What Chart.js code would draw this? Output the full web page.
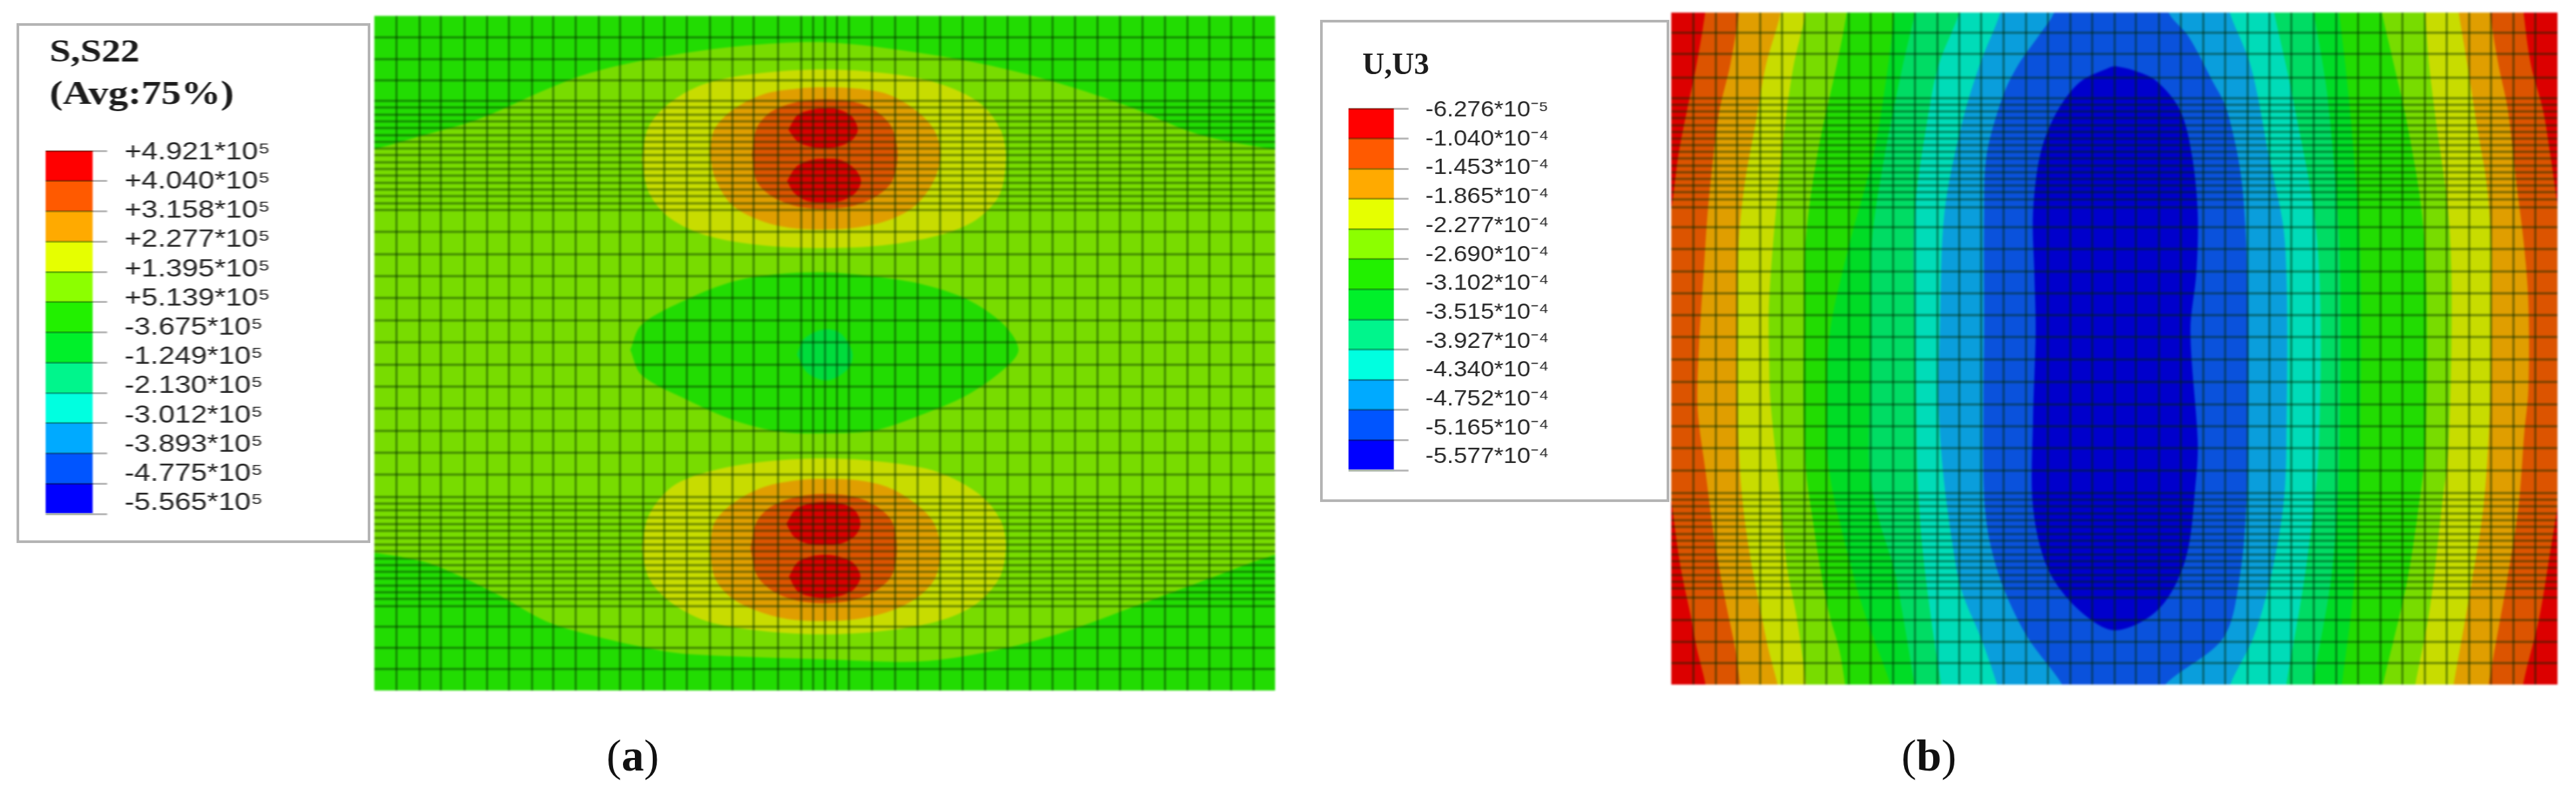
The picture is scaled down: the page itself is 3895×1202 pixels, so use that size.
<!DOCTYPE html>
<html><head><meta charset="utf-8">
<script src="https://cdn.jsdelivr.net/npm/chart.js@4/dist/chart.umd.js"></script>
<style>
html,body{margin:0;padding:0;background:#fff;width:3895px;height:1202px;overflow:hidden}
canvas{position:absolute;display:block}
.box{position:absolute;border:4px solid #b4b4b4;background:#fff;box-sizing:border-box}
.t{position:absolute;font-family:"Liberation Serif",serif;font-weight:bold;color:#1c1c1c;white-space:nowrap;transform-origin:0 0;filter:blur(.7px);line-height:1}
.cap{position:absolute;font-family:"Liberation Serif",serif;font-size:68px;color:#111;white-space:nowrap;line-height:1}
</style></head><body>
<div class="box" style="left:25px;top:35px;width:535px;height:786px"></div>
<div class="t" style="left:75px;top:53px;font-size:48px;transform:scaleX(1.2)">S,S22</div>
<div class="t" style="left:75px;top:115px;font-size:50px;transform:scaleX(1.2)">(Avg:75%)</div>
<div class="box" style="left:1996px;top:30px;width:528px;height:729px"></div>
<div class="t" style="left:2060px;top:74px;font-size:46px">U,U3</div>
<div class="cap" style="left:917px;top:1108px">(<b>a</b>)</div>
<div class="cap" style="left:2875px;top:1108px">(<b>b</b>)</div>
<canvas id="mapA" width="1362" height="1020" style="left:566px;top:24px;filter:blur(1.8px)"></canvas>
<canvas id="legA" width="320" height="669" style="left:69px;top:168px;transform-origin:0 0;transform:scaleX(1.19);filter:blur(.7px)"></canvas>
<canvas id="mapB" width="1340" height="1016" style="left:2527px;top:19px;filter:blur(1.8px)"></canvas>
<canvas id="legB" width="350" height="667" style="left:2039px;top:104px;transform-origin:0 0;transform:scaleX(1.11);filter:blur(.7px)"></canvas>
<script>
// ---------- legend text ----------
const legendLabelsA = ["+4.921*10⁵","+4.040*10⁵","+3.158*10⁵","+2.277*10⁵","+1.395*10⁵","+5.139*10⁵","-3.675*10⁵","-1.249*10⁵","-2.130*10⁵","-3.012*10⁵","-3.893*10⁵","-4.775*10⁵","-5.565*10⁵"];
const legendLabelsB = ["-6.276*10⁻⁵","-1.040*10⁻⁴","-1.453*10⁻⁴","-1.865*10⁻⁴","-2.277*10⁻⁴","-2.690*10⁻⁴","-3.102*10⁻⁴","-3.515*10⁻⁴","-3.927*10⁻⁴","-4.340*10⁻⁴","-4.752*10⁻⁴","-5.165*10⁻⁴","-5.577*10⁻⁴"];
const legendColors = ["#ff0000","#ff5a00","#ffaa00","#e6ff00","#8cff00","#22f000","#00f02a","#00f58c","#00ffe0","#00aaff","#0055ff","#0000ff"];
const bandHeights = [1,1,1,1,1,1,1,1,1,1,1,1];

// ---------- mesh lines (model units) ----------
const meshColsA = [33,68,101,136,170,203,238,270,304,339,371,406,438,473,507,541,573,610,645,663,681,699,717,752,787,821,855,889,923,957,991,1025,1059,1093,1127,1161,1195,1229,1262,1295,1329];
const meshRowsA = [32,65,97,128,138,149,159,169,180,190,200,210,221,231,241,252,262,272,283,293,326,360,393,426,460,493,527,560,593,627,660,693,727,737,747,758,768,778,789,799,809,820,830,840,850,861,871,881,892,923,955,987];
const meshColsB = [33,67,100,134,167,201,234,268,301,335,368,402,435,469,502,536,569,603,636,670,703,737,770,804,837,871,904,938,971,1005,1038,1072,1105,1139,1172,1206,1239,1273,1306];
const meshRowsB = [30,62,98,129,139,149,159,170,180,190,200,210,220,231,241,251,261,271,282,294,324,357,391,424,457,490,524,558,592,625,658,692,726,736,746,757,767,777,788,798,808,819,829,839,850,860,870,884,918,951,983];

// ---------- panel (a): contour outlines, S22 ----------
const baseA = [[-40,-40],[1400,-40],[1400,1060],[-40,1060],[-40,-40]];
const limeA = [[-40,205],[0,201],[72,181],[155,157],[263,110],[327,86],[434,62],[560,45],[685,40],[825,56],[931,75],[1036,102],[1141,137],[1246,179],[1362,202],[1400,205],[1400,812],[1362,815],[1246,857],[1141,896],[1036,934],[931,961],[825,976],[685,973],[474,965],[414,956],[327,936],[261,916],[194,879],[127,846],[77,826],[1,812],[-40,810],[-40,205]];
const lensA = [[387,505],[404,467],[474,428],[545,401],[615,390],[685,388],[755,394],[825,405],[895,428],[951,466],[974,505],[951,535],[895,574],[825,604],[755,627],[678,631],[615,629],[545,612],[474,581],[404,543],[387,505]];
const blobA = [[639,512],[650,488],[680,474],[705,480],[723,510],[715,535],[685,551],[655,540],[639,512]];
const yellowTopA = [[404,217],[415,167],[450,129],[502,102],[580,87],[679,81],[776,87],[853,102],[917,133],[948,175],[955,217],[945,271],[909,309],[853,332],[769,347],[679,351],[587,347],[502,332],[446,305],[415,267],[404,217]];
const orangeTopA = [[507,205],[515,170],[545,140],[590,118],[640,110],[679,108],[730,110],[775,118],[815,140],[845,170],[856,205],[848,245],[820,285],[780,308],[730,320],[679,323],[625,320],[580,308],[540,285],[515,245],[507,205]];
const deepTopA = [[571,210],[578,170],[600,145],[640,130],[680,126],[725,130],[760,145],[783,170],[791,210],[783,250],[760,272],[725,287],[680,292],[635,287],[600,272],[578,250],[571,210]];
const red1A = [[626,172],[640,150],[665,141],[680,140],[700,141],[722,152],[731,172],[722,188],[700,198],[680,200],[660,198],[640,190],[626,172]];
const red2A = [[624,250],[638,228],[660,218],[680,216],[705,218],[727,232],[736,250],[727,268],[705,280],[680,282],[655,280],[635,268],[624,250]];
const yellowBotA = [[404,805],[415,755],[450,712],[502,690],[580,675],[679,669],[776,675],[853,690],[917,725],[948,765],[955,805],[945,850],[909,890],[853,915],[769,930],[679,935],[587,930],[502,915],[446,885],[415,850],[404,805]];
const orangeBotA = [[507,805],[515,765],[545,735],[590,712],[640,702],[679,700],[730,702],[775,712],[815,735],[845,765],[856,805],[848,850],[820,880],[780,900],[730,912],[679,915],[625,912],[580,900],[540,880],[515,850],[507,805]];
const deepBotA = [[569,805],[578,765],[600,742],[640,727],[680,723],[725,727],[760,742],[783,765],[790,805],[783,845],[760,868],[725,883],[680,888],[635,883],[600,868],[578,845],[569,805]];
const red3A = [[623,768],[637,746],[660,737],[680,735],[705,737],[727,748],[735,768],[727,786],[705,798],[680,800],[655,798],[635,788],[623,768]];
const red4A = [[627,848],[640,826],[662,817],[680,815],[700,817],[724,827],[735,848],[724,868],[700,878],[680,880],[660,878],[640,870],[627,848]];
const colorsA = {green:"#22dc02",lime:"#78dc00",blob:"#00dc3c",yellow:"#c8dc00",orange:"#e09e00",deep:"#dc5400",red:"#d80000"};

// ---------- panel (b): contour outlines, U3 ----------
const baseB = [[-40,-40],[1380,-40],[1380,1060],[-40,1060],[-40,-40]];
const l1B = [[53,-30],[51,2],[38,80],[24,147],[11,214],[3,277],[-15,400],[-15,620],[2,752],[14,838],[29,910],[39,963],[52,1017],[54,1046],[1287,1046],[1288,1016],[1312,917],[1330,809],[1342,733],[1355,620],[1355,400],[1338,277],[1329,214],[1318,147],[1300,80],[1289,2],[1287,-30],[53,-30]];
const l2B = [[104,-30],[102,2],[89,80],[73,147],[64,214],[55,303],[49,393],[42,504],[40,600],[52,695],[61,767],[72,838],[86,910],[97,963],[104,1017],[106,1046],[1234,1046],[1236,1016],[1263,863],[1281,748],[1290,633],[1296,571],[1296,437],[1289,348],[1278,259],[1265,147],[1251,80],[1238,2],[1236,-30],[104,-30]];
const l3B = [[167,-30],[165,2],[143,80],[127,170],[111,259],[102,348],[100,482],[100,588],[104,695],[111,767],[122,838],[136,910],[147,963],[161,1017],[166,1046],[1178,1046],[1183,1016],[1210,863],[1228,748],[1238,600],[1240,437],[1240,348],[1233,259],[1218,170],[1204,80],[1191,2],[1187,-30],[167,-30]];
const l4B = [[205,-30],[203,2],[185,80],[172,170],[158,303],[148,437],[148,520],[150,588],[161,695],[168,767],[175,838],[189,910],[197,963],[204,1017],[208,1046],[1120,1046],[1125,1016],[1147,901],[1165,748],[1175,660],[1180,437],[1175,303],[1157,170],[1146,80],[1140,2],[1138,-30],[205,-30]];
const l5B = [[267,-30],[265,2],[250,80],[221,214],[203,348],[201,480],[200,588],[204,695],[214,767],[225,838],[239,910],[254,963],[263,1017],[266,1046],[1070,1046],[1076,1016],[1112,863],[1130,748],[1140,660],[1142,437],[1135,303],[1113,170],[1093,80],[1075,2],[1070,-30],[267,-30]];
const l6B = [[340,-30],[337,2],[328,80],[306,214],[270,348],[240,482],[236,588],[239,695],[272,838],[293,910],[332,1017],[338,1046],[1008,1046],[1014,1016],[1035,838],[1041,660],[1041,348],[1024,125],[1010,2],[1006,-30],[340,-30]];
const l7B = [[372,-30],[368,2],[350,80],[323,214],[303,348],[301,480],[300,588],[300,695],[314,767],[336,838],[350,910],[368,1017],[374,1046],[966,1046],[970,1016],[1000,838],[1010,660],[1010,348],[992,125],[972,2],[968,-30],[372,-30]];
const l8B = [[440,-30],[435,2],[404,80],[386,170],[368,303],[368,480],[370,588],[372,695],[379,802],[392,910],[408,1017],[412,1046],[926,1046],[930,1016],[960,838],[979,660],[977,348],[939,125],[912,2],[906,-30],[440,-30]];
const l9B = [[503,-30],[497,2],[466,80],[439,170],[413,303],[406,480],[404,588],[411,695],[425,802],[439,874],[468,945],[493,1017],[500,1046],[838,1046],[845,1016],[880,945],[905,860],[925,750],[930,660],[928,348],[903,214],[876,80],[845,2],[838,-30],[503,-30]];
const l10B = [[586,-30],[578,2],[555,36],[524,80],[502,125],[477,214],[473,303],[473,480],[472,588],[473,731],[482,802],[504,874],[539,945],[591,1016],[600,1046],[738,1046],[747,1016],[835,945],[860,850],[870,740],[872,660],[872,437],[863,259],[840,147],[818,103],[782,36],[753,2],[745,-30],[586,-30]];
const l11B = [[671,81],[663,83],[618,105],[582,152],[558,214],[547,303],[549,393],[551,482],[547,616],[547,748],[569,840],[614,901],[671,934],[738,901],[778,825],[793,710],[796,648],[785,482],[794,393],[796,303],[787,214],[769,147],[733,103],[698,87],[671,81]];
const colorsB = ["#dc0000","#dc5400","#e09e00","#c8dc00","#78dc00","#22dc02","#00dc26","#00dc64","#00dcb8","#0a9edc","#0a52dc","#0000cc"];

// ---------- builders ----------
Chart.defaults.font.family = '"Liberation Sans",sans-serif';
function layer(points, color){
  return {data: points.map(p=>({x:p[0],y:p[1]})), showLine:true, fill:'shape', backgroundColor:color, borderColor:color,
          borderWidth:0, pointRadius:0, tension:.32, capBezierPoints:false};
}
function meshChart(id, w, h, cols, rows, layers){
  new Chart(document.getElementById(id), {
    type:'scatter',
    data:{datasets: layers.slice().reverse()},
    options:{responsive:false, animation:false, devicePixelRatio:1,
      layout:{padding:0, autoPadding:false},
      plugins:{legend:{display:false}, tooltip:{enabled:false}},
      scales:{
        x:{type:'linear',min:0,max:w,ticks:{display:false,autoSkip:false},border:{display:false},
           grid:{z:1,color:'rgba(0,40,0,.5)',lineWidth:3,drawTicks:false},
           afterBuildTicks:s=>{s.ticks=cols.map(v=>({value:v}));}},
        y:{type:'linear',reverse:true,min:0,max:h,ticks:{display:false,autoSkip:false},border:{display:false},
           grid:{z:1,color:'rgba(0,40,0,.5)',lineWidth:3,drawTicks:false},
           afterBuildTicks:s=>{s.ticks=rows.map(v=>({value:v}));}}
      }}
  });
}
function legendChart(id, labels, opt){
  const n = legendColors.length;
  new Chart(document.getElementById(id), {
    type:'bar',
    data:{labels:[''], datasets: legendColors.map((c,i)=>({data:[bandHeights[n-1-i]], backgroundColor:legendColors[n-1-i], borderWidth:0, barPercentage:1, categoryPercentage:1, stack:'s'}))},
    options:{responsive:false, animation:false, devicePixelRatio:1,
      layout:{padding:{top:60,bottom:60,left:0,right:0}, autoPadding:false},
      plugins:{legend:{display:false}, tooltip:{enabled:false}},
      scales:{
        x:{display:false,stacked:true},
        y:{stacked:true,position:'right',weight:0,min:0,max:12,
           ticks:{display:false,stepSize:1,autoSkip:false},
           border:{display:false},
           grid:{z:1,color:'rgba(0,30,0,.32)',lineWidth:3,tickColor:'#b8b8b8',tickWidth:3,tickLength:opt.tick},
           afterFit:s=>{s.width=opt.tick;}},
        yLabels:{type:'linear',position:'right',weight:1,min:opt.lmin,max:opt.lmax,
           ticks:{padding:opt.pad,autoSkip:false,color:'#262626',font:{size:opt.size,family:'"Liberation Sans"'},
                  callback:(v)=>labels[12-v]},
           border:{display:false},grid:{display:false,drawTicks:false},
           afterBuildTicks:s=>{s.ticks=labels.map((_,i)=>({value:i}));},
           afterFit:s=>{s.width=opt.total-opt.bar-opt.tick;}}
      }}
  });
}
meshChart('mapA',1362,1020,meshColsA,meshRowsA,[
  layer(baseA,colorsA.green),layer(limeA,colorsA.lime),layer(lensA,colorsA.green),layer(blobA,colorsA.blob),
  layer(yellowTopA,colorsA.yellow),layer(orangeTopA,colorsA.orange),layer(deepTopA,colorsA.deep),layer(red1A,colorsA.red),layer(red2A,colorsA.red),
  layer(yellowBotA,colorsA.yellow),layer(orangeBotA,colorsA.orange),layer(deepBotA,colorsA.deep),layer(red3A,colorsA.red),layer(red4A,colorsA.red)]);
meshChart('mapB',1340,1016,meshColsB,meshRowsB,[baseB,l1B,l2B,l3B,l4B,l5B,l6B,l7B,l8B,l9B,l10B,l11B].map((p,i)=>layer(p,colorsB[i])));
legendChart('legA',legendLabelsA,{tick:18.5,pad:22,size:37,bar:59.7,total:320,lmin:-0.363,lmax:12.057});
legendChart('legB',legendLabelsB,{tick:20,pad:23,size:33,bar:61.7,total:350,lmin:-0.455,lmax:12.07});
</script>
</body></html>
